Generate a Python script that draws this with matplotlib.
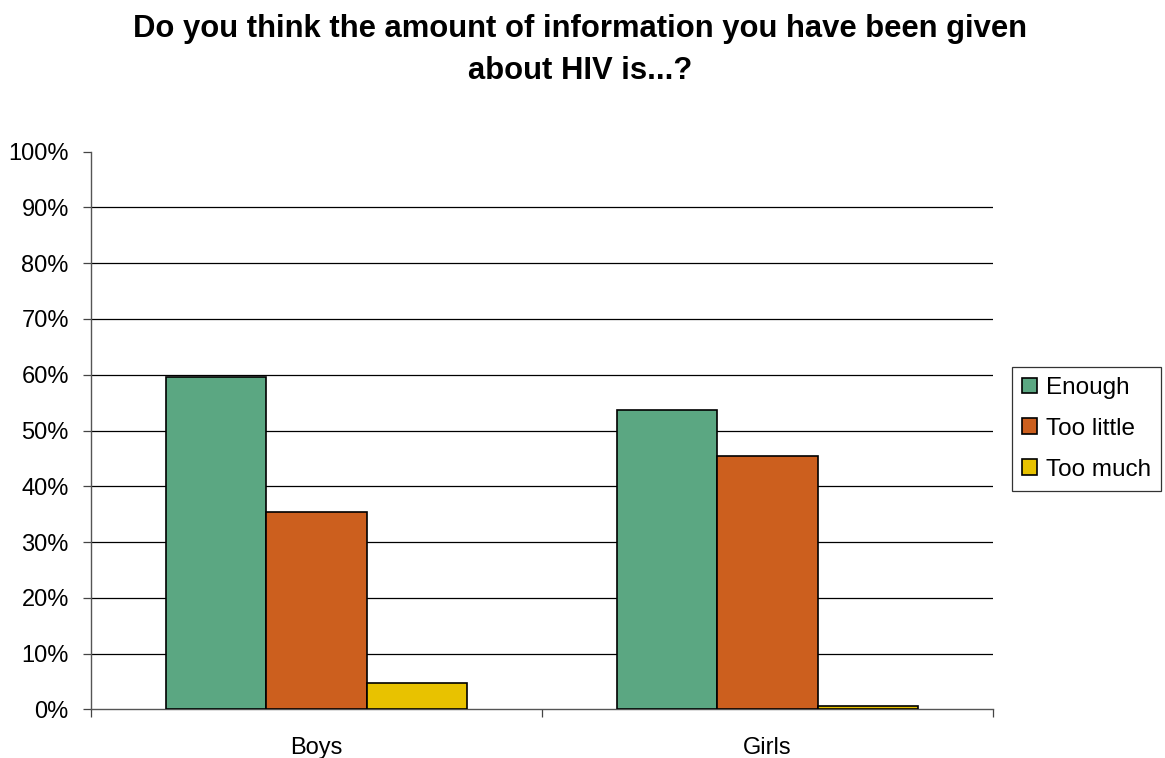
import matplotlib
matplotlib.use("Agg")
import matplotlib.pyplot as plt
import numpy as np
from matplotlib.ticker import FuncFormatter, FixedLocator

plt.rcParams['font.family'] = ['Liberation Sans', 'DejaVu Sans']

title = "Do you think the amount of information you have been given\nabout HIV is...?"
groups = ["Boys", "Girls"]
series = ["Enough", "Too little", "Too much"]
enough = [59.6, 53.6]
too_little = [35.3, 45.5]
too_much = [4.8, 0.6]
colors = ["#5BA782", "#CC5F1E", "#E8C200"]

fig = plt.figure(figsize=(11.65, 7.58), dpi=100)
ax = fig.add_axes([0.0781, 0.0642, 0.8524 - 0.0781, 0.7999 - 0.0642])

x = np.arange(len(groups))
width = 0.222
for i, (vals, name, col) in enumerate(zip([enough, too_little, too_much], series, colors)):
    ax.bar(x + (i - 1) * width, vals, width, color=col, edgecolor="black",
           linewidth=1.2, label=name, zorder=3)

ax.set_xlim(-0.5, 1.5)
ax.set_ylim(0, 100)
ax.set_yticks(np.arange(0, 101, 10))
ax.yaxis.set_major_formatter(FuncFormatter(lambda v, p: f"{int(v)}%"))
for yv in range(10, 100, 10):
    ax.axhline(yv, color="black", linewidth=0.9, zorder=1)

ax.set_xticks(x)
ax.set_xticklabels(groups)
ax.xaxis.set_minor_locator(FixedLocator([-0.5, 0.5, 1.5]))
ax.tick_params(axis="x", which="major", length=0, labelsize=17, pad=20)
ax.tick_params(axis="x", which="minor", length=6, width=0.9, color="#444444")
ax.tick_params(axis="y", length=6, width=0.9, color="#444444", labelsize=17, pad=10)

for s in ["top", "right"]:
    ax.spines[s].set_visible(False)
ax.spines["left"].set_color("#555555")
ax.spines["bottom"].set_color("#555555")
ax.spines["left"].set_linewidth(1.0)
ax.spines["bottom"].set_linewidth(1.0)

fig.text(0.498, 0.982, title, ha="center", va="top", fontsize=22.3,
         fontweight="bold", linespacing=1.55)

leg = ax.legend(loc="center left", bbox_to_anchor=(1.021, 0.503), fontsize=17.5,
                frameon=True, fancybox=False, edgecolor="black",
                handlelength=0.62, handleheight=0.62, handletextpad=0.35,
                borderpad=0.42, labelspacing=0.77, borderaxespad=0)
leg.get_frame().set_linewidth(0.9)

fig.savefig("out.png", dpi=100, facecolor="white")
